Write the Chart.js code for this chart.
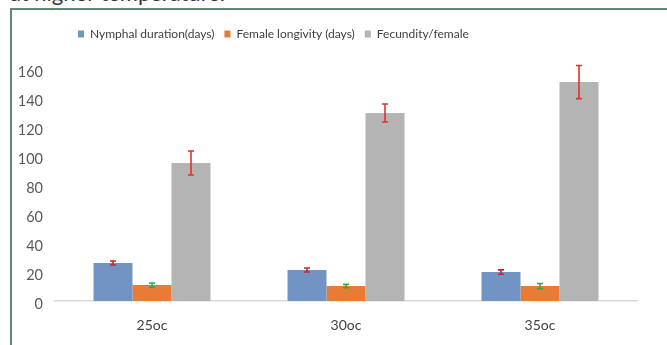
<!DOCTYPE html>
<html>
<head>
<meta charset="utf-8">
<script src="https://cdn.jsdelivr.net/npm/chart.js@4.4.0/dist/chart.umd.min.js"></script>
<style>
  html, body { margin: 0; padding: 0; background: #ffffff; overflow: hidden; }
  #wrap { position: relative; width: 667px; height: 345px; }
  #title { position: absolute; left: 10px; top: -18px; font: 22px Lato, sans-serif; color: #333333; line-height: 22px; white-space: nowrap; }
  #frame { position: absolute; left: 10px; top: 8px; width: 700px; height: 400px; border-left: 2px solid #5e8a73; border-top: 2px solid #5e8a73; box-sizing: border-box; }
  canvas { position: absolute; left: 0; top: 0; }
</style>
</head>
<body>
<div id="wrap">
  <div id="title">at higher temperature.</div>
  <div id="frame"></div>
  <canvas id="c" width="667" height="345"></canvas>
</div>
<script>
const categories = ['25oc', '30oc', '35oc'];
const seriesNames = ['Nymphal duration(days)', 'Female longivity (days)', 'Fecundity/female'];
const nymphal = [26.2, 21.4, 20.0];
const nymphalErr = [1.4, 1.4, 1.5];
const longevity = [11.0, 10.3, 10.3];
const longevityErr = [1.4, 1.2, 1.8];
const fecundity = [95.2, 129.7, 151.0];
const fecundityErr = [8.3, 6.2, 11.4];
const yTicks = [0, 20, 40, 60, 80, 100, 120, 140, 160];

const errorBarsPlugin = {
  id: 'errorBars',
  afterDatasetsDraw(chart) {
    const ctx = chart.ctx;
    const y = chart.scales.y;
    chart.data.datasets.forEach((ds, i) => {
      const meta = chart.getDatasetMeta(i);
      ctx.save();
      ctx.strokeStyle = ds.errColor;
      ctx.lineWidth = 1.6;
      meta.data.forEach((bar, j) => {
        const v = ds.data[j], e = ds.errors[j];
        const top = y.getPixelForValue(v + e);
        const bot = y.getPixelForValue(v - e);
        const x = bar.x;
        ctx.beginPath();
        ctx.moveTo(x, top); ctx.lineTo(x, bot);
        ctx.moveTo(x - 3, top); ctx.lineTo(x + 3, top);
        ctx.moveTo(x - 3, bot); ctx.lineTo(x + 3, bot);
        ctx.stroke();
      });
      ctx.restore();
    });
  }
};

const legendPlacement = {
  id: 'legendPlacement',
  beforeInit(chart) {
    const origFit = chart.legend.fit;
    chart.legend.fit = function () {
      origFit.bind(chart.legend)();
      this.height += 19;
    };
  },
  afterLayout(chart) {
    chart.legend.left += 58;
  }
};

new Chart(document.getElementById('c'), {
  type: 'bar',
  data: {
    labels: categories,
    datasets: [
      { label: seriesNames[0], data: nymphal, errors: nymphalErr, backgroundColor: '#7294c4', errColor: '#c0282d' },
      { label: seriesNames[1], data: longevity, errors: longevityErr, backgroundColor: '#e87c36', errColor: '#33a84a' },
      { label: seriesNames[2], data: fecundity, errors: fecundityErr, backgroundColor: '#b4b4b4', errColor: '#e53030' }
    ]
  },
  options: {
    responsive: false,
    animation: false,
    devicePixelRatio: 1,
    layout: { padding: { left: 10, right: 30, top: 18, bottom: 0 } },
    datasets: { bar: { barPercentage: 1.0, categoryPercentage: 0.603 } },
    plugins: {
      legend: {
        position: 'top',
        align: 'start',
        labels: {
          boxWidth: 6, boxHeight: 7, padding: 10,
          color: '#404040',
          font: { family: 'Lato', size: 12 }
        }
      },
      tooltip: { enabled: false }
    },
    scales: {
      x: {
        grid: { display: false, drawTicks: false },
        border: { display: true, color: '#d9d9d9', width: 1.5 },
        ticks: { color: '#404040', padding: 16, font: { family: 'Lato', size: 14 } },
        afterFit(s) { s.height = 44; }
      },
      y: {
        min: 0, max: 160,
        afterBuildTicks(s) { s.ticks = yTicks.map(v => ({ value: v })); },
        grid: { display: false, drawTicks: false },
        border: { display: false },
        ticks: { color: '#595959', padding: 12, labelOffset: 3, font: { family: 'Lato', size: 14.5 } },
        afterFit(s) { s.width = 45; }
      }
    }
  },
  plugins: [errorBarsPlugin, legendPlacement]
});
</script>
</body>
</html>
